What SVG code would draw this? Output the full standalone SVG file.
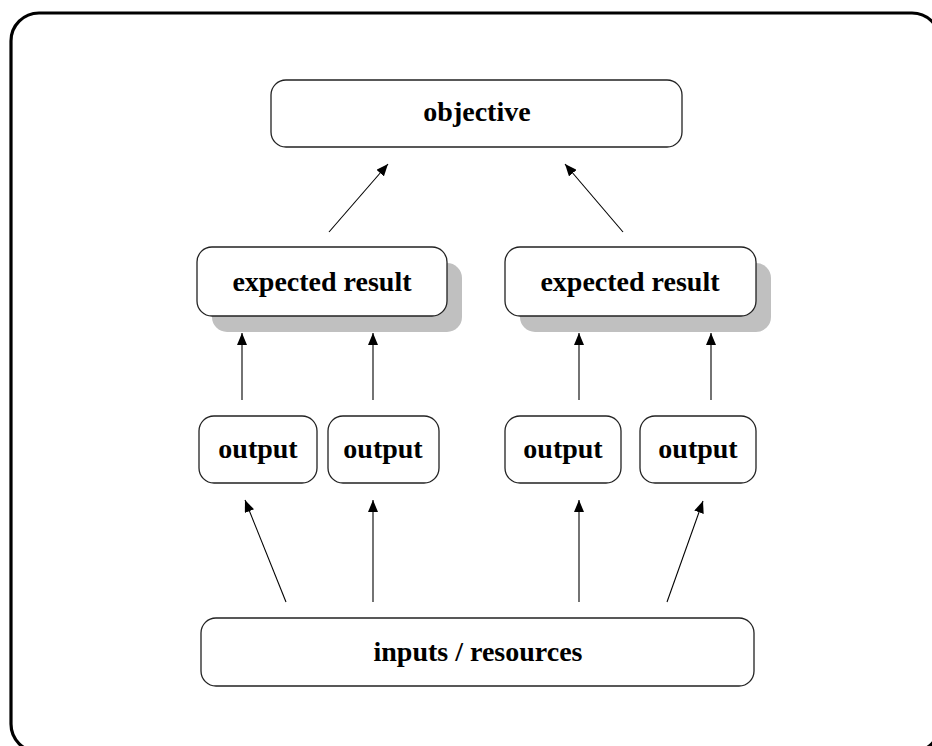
<svg xmlns="http://www.w3.org/2000/svg" width="932" height="746" viewBox="0 0 932 746">
  <style>
    .box { fill: #ffffff; stroke: #222222; stroke-width: 1.3; }
    .shadow { fill: #c0c0c0; stroke: none; }
    .label { font-family: "Liberation Serif", "Times New Roman", serif; font-weight: bold; font-size: 28px; fill: #000000; text-anchor: middle; }
    .edge { stroke: #000000; stroke-width: 1.1; fill: none; marker-end: url(#head); }
  </style>
  <defs>
    <marker id="head" viewBox="0 0 12 10" refX="12" refY="5" markerWidth="12" markerHeight="10" markerUnits="userSpaceOnUse" orient="auto">
      <path d="M0,0 L12,5 L0,10 Z" fill="#000000"/>
    </marker>
  </defs>

  <!-- outer frame -->
  <rect x="11" y="13" width="929" height="739" rx="28" ry="28" fill="none" stroke="#000000" stroke-width="3.2"/>

  <g id="objective">
    <rect class="box" x="271" y="80" width="411" height="67" rx="15" ry="15"/>
    <text class="label" x="477" y="121">objective</text>
  </g>

  <g id="expected-result-left">
    <rect class="shadow" x="212" y="263" width="250" height="69" rx="15" ry="15"/>
    <rect class="box" x="197" y="247" width="250" height="69" rx="15" ry="15"/>
    <text class="label" x="322" y="291">expected result</text>
  </g>

  <g id="expected-result-right">
    <rect class="shadow" x="520" y="263" width="251" height="69" rx="15" ry="15"/>
    <rect class="box" x="505" y="247" width="251" height="69" rx="15" ry="15"/>
    <text class="label" x="630" y="291">expected result</text>
  </g>

  <g id="output-1">
    <rect class="box" x="199" y="416" width="118" height="67" rx="15" ry="15"/>
    <text class="label" x="258" y="458">output</text>
  </g>
  <g id="output-2">
    <rect class="box" x="328" y="416" width="111" height="67" rx="15" ry="15"/>
    <text class="label" x="383" y="458">output</text>
  </g>
  <g id="output-3">
    <rect class="box" x="505" y="416" width="116" height="67" rx="15" ry="15"/>
    <text class="label" x="563" y="458">output</text>
  </g>
  <g id="output-4">
    <rect class="box" x="640" y="416" width="116" height="67" rx="15" ry="15"/>
    <text class="label" x="698" y="458">output</text>
  </g>

  <g id="inputs-resources">
    <rect class="box" x="201" y="618" width="553" height="68" rx="15" ry="15"/>
    <text class="label" x="478" y="661">inputs / resources</text>
  </g>

  <g id="connectors">
    <line class="edge" x1="329" y1="232" x2="388" y2="164"/>
    <line class="edge" x1="623" y1="232" x2="565" y2="164"/>
    <line class="edge" x1="242" y1="400" x2="242" y2="333"/>
    <line class="edge" x1="373" y1="400" x2="373" y2="333"/>
    <line class="edge" x1="579" y1="400" x2="579" y2="333"/>
    <line class="edge" x1="711" y1="400" x2="711" y2="333"/>
    <line class="edge" x1="286" y1="602" x2="245" y2="500"/>
    <line class="edge" x1="373" y1="602" x2="373" y2="500"/>
    <line class="edge" x1="579" y1="602" x2="579" y2="500"/>
    <line class="edge" x1="667" y1="602" x2="703" y2="501"/>
  </g>
</svg>
